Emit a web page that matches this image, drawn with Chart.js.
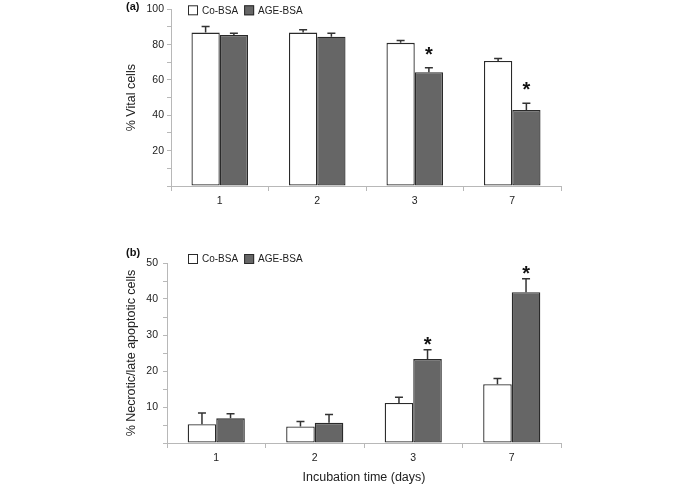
<!DOCTYPE html>
<html>
<head>
<meta charset="utf-8">
<script src="https://cdn.jsdelivr.net/npm/chart.js@4.4.1/dist/chart.umd.min.js"></script>
<style>
  html, body { margin: 0; padding: 0; background: #fff; }
  body { width: 685px; height: 488px; position: relative; overflow: hidden; font-family: "Liberation Sans", Arial, sans-serif; }
  .wrap { position: absolute; left: 0; width: 685px; }
  #wa { top: 0; height: 215px; }
  #wb { top: 240px; height: 248px; }
  .panel { position: absolute; font-weight: bold; font-size: 11px; color: #111; }
</style>
</head>
<body>
<div class="wrap" id="wa"><canvas id="ca" width="685" height="215"></canvas></div>
<div class="wrap" id="wb"><canvas id="cb" width="685" height="248"></canvas></div>
<div class="panel" style="left:126px; top:0px;">(a)</div>
<div class="panel" style="left:126px; top:246px;">(b)</div>
<script>
// ---- data ----
const categories = ['1', '2', '3', '7'];
const seriesNames = ['Co-BSA', 'AGE-BSA'];

const vitalCo = [86.8, 86.8, 81.0, 70.8];
const vitalCoErr = [3.4, 1.6, 1.3, 1.4];
const vitalAge = [85.4, 84.5, 64.4, 43.0];
const vitalAgeErr = [1.1, 2.0, 2.5, 3.9];
const vitalSignificant = [false, false, true, true];

const necroCo = [5.2, 4.6, 11.1, 16.3];
const necroCoErr = [3.1, 1.4, 1.6, 1.6];
const necroAge = [6.85, 5.6, 23.3, 41.9];
const necroAgeErr = [1.3, 2.3, 2.6, 3.7];
const necroSignificant = [false, false, true, true];

const vitalTicks = { max: 100, step: 10, labelEvery: 20 };
const necroTicks = { max: 50, step: 5, labelEvery: 10 };

// ---- styles ----
const FONT = "'Liberation Sans', Arial, sans-serif";
const AXIS = '#b8b8b8';
const TEXT = '#222';
const colWhite = '#ffffff';
const colDark = '#666666';
const colEdge = '#2a2a2a';

const errorBarPlugin = {
  id: 'errorBars',
  afterDatasetsDraw(chart, args, opts) {
    const ctx = chart.ctx;
    const y = chart.scales.y;
    ctx.save();
    ctx.strokeStyle = '#333';
    ctx.lineWidth = 1.5;
    chart.data.datasets.forEach((ds, di) => {
      const meta = chart.getDatasetMeta(di);
      meta.data.forEach((bar, i) => {
        const v = ds.data[i], e = ds.errors[i];
        const y0 = y.getPixelForValue(v), y1 = y.getPixelForValue(v + e);
        ctx.beginPath();
        ctx.moveTo(bar.x, y0); ctx.lineTo(bar.x, y1);
        ctx.moveTo(bar.x - 4, y1); ctx.lineTo(bar.x + 4, y1);
        ctx.stroke();
      });
    });
    // significance stars above the AGE-BSA bars
    const ds = chart.data.datasets[1];
    const meta = chart.getDatasetMeta(1);
    ctx.fillStyle = '#111';
    ctx.font = 'bold 20px ' + FONT;
    ctx.textAlign = 'center';
    ctx.textBaseline = 'alphabetic';
    opts.significant.forEach((s, i) => {
      if (!s) return;
      const bar = meta.data[i];
      const yt = y.getPixelForValue(ds.data[i] + ds.errors[i]);
      ctx.fillText('*', bar.x, yt - opts.starGap + 14);
    });
    ctx.restore();
  }
};

const legendPlugin = {
  id: 'boxLegend',
  afterDraw(chart, args, opts) {
    const ctx = chart.ctx;
    const ca = chart.chartArea;
    let x = ca.left + opts.dx;
    const cy = ca.top + opts.dy;
    ctx.save();
    ctx.font = '10px ' + FONT;
    ctx.textBaseline = 'middle';
    ctx.textAlign = 'left';
    chart.data.datasets.forEach(ds => {
      ctx.fillStyle = ds.backgroundColor;
      ctx.strokeStyle = colEdge;
      ctx.lineWidth = 1;
      ctx.fillRect(x, cy - 5, 10, 10);
      ctx.strokeRect(x + 0.5, cy - 4.5, 9, 9);
      ctx.fillStyle = TEXT;
      ctx.fillText(ds.label, x + 14, cy + 0.5);
      x += 14 + ctx.measureText(ds.label).width + 6;
    });
    ctx.restore();
  }
};

function makeChart(id, coVals, coErr, ageVals, ageErr, sig, tk, cfg) {
  return new Chart(document.getElementById(id), {
    type: 'bar',
    data: {
      labels: categories,
      datasets: [
        { label: seriesNames[0], data: coVals, errors: coErr, backgroundColor: colWhite, borderColor: colEdge, borderWidth: 1.3, borderSkipped: false },
        { label: seriesNames[1], data: ageVals, errors: ageErr, backgroundColor: colDark, borderColor: colEdge, borderWidth: 1.3, borderSkipped: false }
      ]
    },
    options: {
      responsive: false,
      animation: false,
      events: [],
      layout: { padding: cfg.padding },
      plugins: {
        legend: { display: false },
        tooltip: { enabled: false },
        errorBars: { significant: sig, starGap: cfg.starGap },
        boxLegend: { dx: cfg.legendDx, dy: cfg.legendDy }
      },
      datasets: { bar: { categoryPercentage: 0.58, barPercentage: 1.0 } },
      scales: {
        x: {
          grid: { display: true, drawOnChartArea: false, drawTicks: true, tickLength: 5, color: AXIS, offset: true },
          border: { color: AXIS, width: 1 },
          ticks: { color: TEXT, font: { size: 10.5, family: FONT }, padding: 4 },
          title: cfg.xTitle ? { display: true, text: cfg.xTitle, color: TEXT, font: { size: 12.5, family: FONT }, padding: { top: 0, bottom: cfg.xTitlePad } } : { display: false },
          afterFit(s) { s.height = cfg.xHeight; }
        },
        y: {
          min: 0, max: tk.max,
          grid: { display: true, drawOnChartArea: false, drawTicks: true, tickLength: 4, color: AXIS },
          border: { color: AXIS, width: 1 },
          ticks: {
            stepSize: tk.step, color: TEXT, font: { size: 10.5, family: FONT }, padding: cfg.yTickPad,
            callback: v => (v > 0 && v % tk.labelEvery === 0) ? String(v) : ''
          },
          title: { display: true, text: cfg.yTitle, color: TEXT, font: { size: 12.5, family: FONT }, padding: { top: 12, bottom: 0 } },
          afterFit(s) { s.width = cfg.yWidth; }
        }
      }
    },
    plugins: [errorBarPlugin, legendPlugin]
  });
}

makeChart('ca', vitalCo, vitalCoErr, vitalAge, vitalAgeErr, vitalSignificant, vitalTicks, {
  padding: { left: 112, top: 7, right: 124, bottom: 0 },
  yWidth: 59, xHeight: 29, yTickPad: 3, starGap: 21,
  yTitle: '% Vital cells', xTitle: null, xTitlePad: 0,
  legendDx: 17, legendDy: 1
});

makeChart('cb', necroCo, necroCoErr, necroAge, necroAgeErr, necroSignificant, necroTicks, {
  padding: { left: 112, top: 23, right: 124, bottom: 0 },
  yWidth: 55, xHeight: 45, yTickPad: 5, starGap: 13,
  yTitle: '% Necrotic/late apoptotic cells', xTitle: 'Incubation time (days)', xTitlePad: 3,
  legendDx: 21, legendDy: -4
});
</script>
</body>
</html>
